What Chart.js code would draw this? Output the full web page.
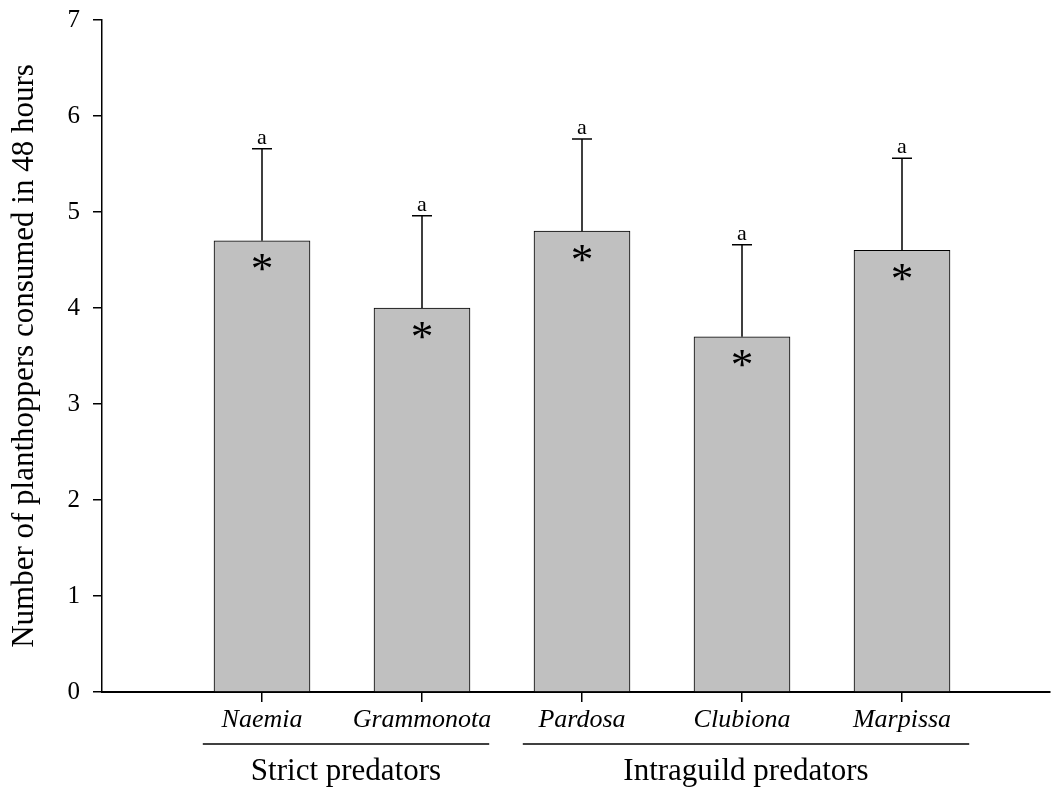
<!DOCTYPE html>
<html>
<head>
<meta charset="utf-8">
<script src="https://cdn.jsdelivr.net/npm/chart.js@4.4.1/dist/chart.umd.min.js"></script>
<style>
  html, body { margin: 0; padding: 0; background: #fff; }
  #wrap { width: 1052px; height: 790px; }
</style>
</head>
<body>
<div id="wrap"><canvas id="c" width="1052" height="790"></canvas></div>
<script>
// Planthoppers eaten per predator species over 48 h (mean and standard error)
const species = ['Naemia', 'Grammonota', 'Pardosa', 'Clubiona', 'Marpissa'];
const meanConsumed = [4.7, 4.0, 4.8, 3.7, 4.6];
const stdError = [0.96, 0.96, 0.96, 0.96, 0.96];
const letters = ['a', 'a', 'a', 'a', 'a'];
const significant = [true, true, true, true, true];

// Predator guilds: name and the first/last species index each one spans
const groupNames = ['Strict predators', 'Intraguild predators'];
const groupFirst = [0, 2];
const groupLast = [1, 4];

const yTickValues = [0, 1, 2, 3, 4, 5, 6, 7];

const SERIF = "'Liberation Serif', 'Times New Roman', serif";

// Error bars, letter codes and significance stars on the bars
const barMarks = {
  id: 'barMarks',
  afterDatasetsDraw(chart) {
    const ctx = chart.ctx;
    const xs = chart.scales.x, ys = chart.scales.y;
    ctx.save();
    ctx.strokeStyle = '#000';
    ctx.fillStyle = '#000';
    ctx.lineWidth = 1.5;
    // size the star so its ink is about 17px tall
    ctx.font = '40px ' + SERIF;
    const m = ctx.measureText('*');
    const inkH = m.actualBoundingBoxAscent + m.actualBoundingBoxDescent;
    const starSize = 40 * 17 / inkH;
    species.forEach((s, i) => {
      const cx = xs.getPixelForValue(i);
      const yTop = ys.getPixelForValue(meanConsumed[i]);
      const yErr = ys.getPixelForValue(meanConsumed[i] + stdError[i]);
      ctx.beginPath();
      ctx.moveTo(cx, yTop);
      ctx.lineTo(cx, yErr);
      ctx.moveTo(cx - 10, yErr);
      ctx.lineTo(cx + 10, yErr);
      ctx.stroke();

      ctx.font = '22px ' + SERIF;
      ctx.textAlign = 'center';
      ctx.textBaseline = 'alphabetic';
      ctx.fillText(letters[i], cx, yErr - 5);

      if (significant[i]) {
        ctx.font = starSize + 'px ' + SERIF;
        const sm = ctx.measureText('*');
        const asc = sm.actualBoundingBoxAscent, desc = sm.actualBoundingBoxDescent;
        const cy = yTop + 22;
        ctx.fillText('*', cx, cy + (asc - desc) / 2);
      }
    });
    ctx.restore();
  },
  afterDraw(chart) {
    // guild brackets under the species names
    const ctx = chart.ctx;
    const xs = chart.scales.x;
    ctx.save();
    ctx.strokeStyle = '#000';
    ctx.fillStyle = '#000';
    ctx.lineWidth = 1.5;
    ctx.font = '31px ' + SERIF;
    ctx.textAlign = 'center';
    ctx.textBaseline = 'alphabetic';
    groupNames.forEach((g, k) => {
      const x0 = xs.getPixelForValue(groupFirst[k] - 0.37);
      const x1 = xs.getPixelForValue(groupLast[k] + 0.42);
      ctx.beginPath();
      ctx.moveTo(x0, 744);
      ctx.lineTo(x1, 744);
      ctx.stroke();
      ctx.fillText(g, (x0 + x1) / 2, 780);
    });
    ctx.restore();
  }
};

new Chart(document.getElementById('c'), {
  type: 'bar',
  data: {
    datasets: [{
      data: species.map((s, i) => ({ x: i, y: meanConsumed[i] })),
      backgroundColor: '#c0c0c0',
      borderColor: '#000',
      borderWidth: 1,
      barThickness: 96
    }]
  },
  options: {
    responsive: false,
    animation: false,
    devicePixelRatio: 1,
    layout: { padding: { top: 20, right: 2, left: 0, bottom: 0 } },
    plugins: { legend: { display: false }, tooltip: { enabled: false } },
    scales: {
      x: {
        type: 'linear',
        offset: false,
        min: -1,
        max: 4.925,
        afterBuildTicks: (scale) => { scale.ticks = species.map((s, i) => ({ value: i })); },
        afterFit: (scale) => { scale.height = 98; },
        ticks: {
          autoSkip: false,
          maxRotation: 0,
          padding: 3,
          color: '#000',
          font: { family: SERIF, size: 26, style: 'italic' },
          callback: (v) => species[v]
        },
        grid: { offset: false, drawOnChartArea: false, tickLength: 10, color: '#000', lineWidth: 1.5 },
        border: { color: '#000', width: 2 }
      },
      y: {
        min: 0,
        max: 7,
        afterBuildTicks: (scale) => { scale.ticks = yTickValues.map(v => ({ value: v })); },
        afterFit: (scale) => {
          scale.width = 102;
          scale.paddingTop = 0;
          scale.paddingBottom = 0;
        },
        ticks: {
          padding: 13,
          color: '#000',
          font: { family: SERIF, size: 25 }
        },
        grid: { drawOnChartArea: false, tickLength: 9, color: '#000', lineWidth: 1.5 },
        border: { color: '#000', width: 1.5 },
        title: {
          display: true,
          text: 'Number of planthoppers consumed in 48 hours',
          color: '#000',
          font: { family: SERIF, size: 31 },
          padding: { top: 6, bottom: 0 }
        }
      }
    }
  },
  plugins: [barMarks]
});
</script>
</body>
</html>
